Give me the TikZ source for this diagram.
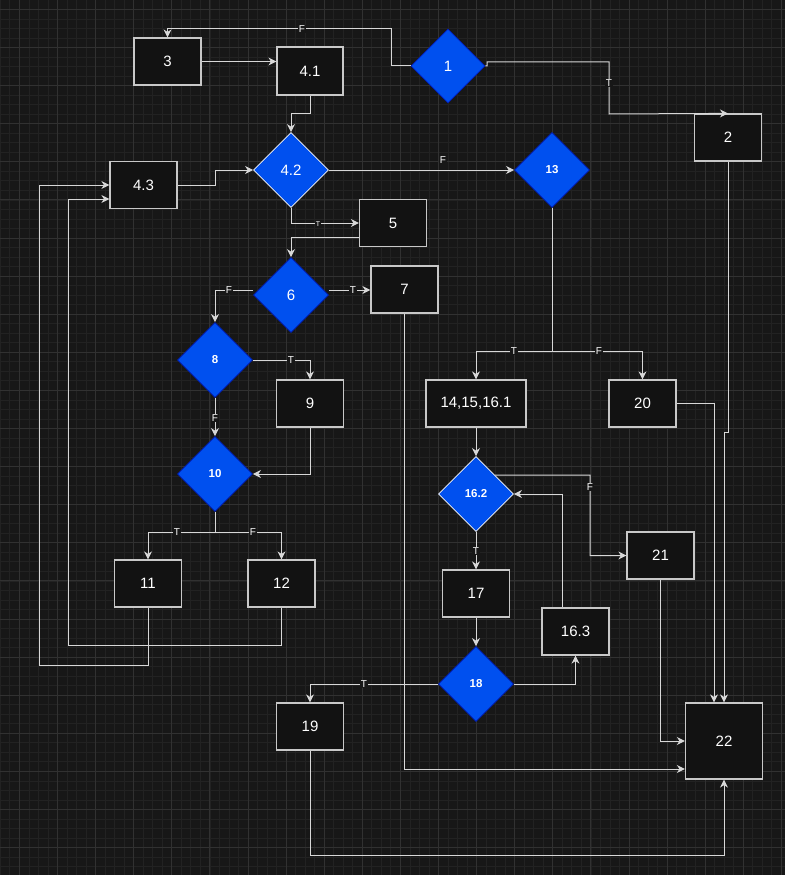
\documentclass[tikz,border=0pt]{standalone}
\usepackage{fontspec}
\setmainfont{Liberation Sans}
\usetikzlibrary{shapes.geometric,arrows.meta,calc}
\definecolor{bg}{HTML}{171717}
\definecolor{gridminor}{HTML}{222222}
\definecolor{gridmajor}{HTML}{313131}
\definecolor{boxfill}{HTML}{121212}
\definecolor{boxline}{HTML}{C8C8C8}
\definecolor{edgecol}{HTML}{D8D8D8}
\definecolor{dblue}{HTML}{0050EF}
\definecolor{dblueline}{HTML}{001DBC}
\begin{document}
\begin{tikzpicture}[x=1pt,y=-1pt,
  box/.style={rectangle, draw=boxline, fill=boxfill, line width=1.2pt, minimum width=67pt, minimum height=47pt, text=white, font=\fontsize{15}{17}\selectfont, inner sep=0pt},
  dia/.style={diamond, shape aspect=1, fill=dblue, draw=dblueline, line width=0.8pt, minimum width=75pt, minimum height=75pt, inner sep=0pt, text=white, font=\fontsize{11.5}{13}\selectfont\bfseries},
  diab/.style={dia, font=\fontsize{15}{17}\selectfont},
  diaw/.style={draw=white},
  edge/.style={draw=edgecol, line width=1pt, -{Stealth[length=8pt,width=8pt,inset=2.5pt]}},
  lbl/.style={fill=bg, text=white, inner sep=1pt, font=\fontsize{10}{12}\selectfont},
]
\useasboundingbox (0,0) rectangle (785,875);
\fill[bg] (0,0) rectangle (785,875);
\foreach \i in {0,...,82} {\draw[gridminor, line width=0.6pt] ({0.25+9.525*\i},0) -- ({0.25+9.525*\i},875);}
\foreach \i in {1,...,92} {\draw[gridminor, line width=0.6pt] (0,{-0.225+9.525*\i}) -- (785,{-0.225+9.525*\i});}
\foreach \i in {0,...,20} {\draw[gridmajor, line width=0.8pt] ({19.3+38.1*\i},0) -- ({19.3+38.1*\i},875);}
\foreach \i in {0,...,22} {\draw[gridmajor, line width=0.8pt] (0,{9.3+38.1*\i}) -- (785,{9.3+38.1*\i});}

% boxes
\node[box] (n3) at (167.5,61.5) {3};
\node[box, minimum width=66pt, minimum height=48pt] (n41) at (310,71) {4.1};
\node[box] (n2) at (728,137.5) {2};
\node[box] (n43) at (143.5,185) {4.3};
\node[box] (n5) at (393,223) {5};
\node[box] (n7) at (404.5,289.5) {7};
\node[box] (n9) at (310,403.5) {9};
\node[box, minimum width=100pt] (n14) at (476,403.5) {14,15,16.1};
\node[box] (n20) at (642.5,403.5) {20};
\node[box] (n21) at (660.5,555.5) {21};
\node[box] (n17) at (476,593.5) {17};
\node[box] (n163) at (575.5,631.5) {16.3};
\node[box] (n11) at (148,583.5) {11};
\node[box] (n12) at (281.5,583.5) {12};
\node[box] (n19) at (310,726.5) {19};
\node[box, minimum width=77pt, minimum height=76pt] (n22) at (724,741) {22};

% diamonds
\node[diab, minimum width=74pt, minimum height=74pt] (d1) at (448,66) {1};
\node[diab, diaw] (d42) at (291,170) {4.2};
\node[dia] (d13) at (552,170) {13};
\node[diab] (d6) at (291,295) {6};
\node[dia] (d8) at (215,360) {8};
\node[dia] (d10) at (215,474) {10};
\node[dia, diaw] (d162) at (476,494) {16.2};
\node[dia] (d18) at (476,684) {18};

% connectors
\draw[edge] (d1.west) -- (391,66) -- (391,29) -| (n3.north);
\draw[edge] (n3.east) -- (n41.west |- n3.east);
\draw[edge] (d1.east) -- (487,66) -- (487,62) -- (609,62) -- (609,114) -- (n2.north);
\draw[edge] (n41.south) -- (310,113) -| (d42.north);
\draw[edge] (n43.east) -- (215,185) |- (d42.west);
\draw[edge] (d42.east) -- (d13.west);
\draw[edge] (d42.south) |- (n5.west);
\draw[edge] ([yshift=-14pt]n5.west) -| (d6.north);
\draw[edge] ([yshift=5pt]d6.east) -- ([yshift=5pt]d6.east -| n7.west);
\draw[edge] ([yshift=5pt]d6.west) -| (d8.north);
\draw[edge] (d8.east) -| (n9.north);
\draw[edge] (d8.south) -- (d10.north);
\draw[edge] (n9.south) |- (d10.east);
\draw[edge] (d10.south) -- (215,532) -| (n11.north);
\draw[edge] (d10.south) -- (215,532) -| (n12.north);
\draw[edge] (n11.south) |- (39,665) |- (n43.west);
\draw[edge] (n12.south) |- (68,645) |- ([yshift=-14pt]n43.west);
\draw[edge] (d13.south) -- (552,351) -| (n14.north);
\draw[edge] (d13.south) -- (552,351) -| (n20.north);
\draw[edge] (n14.south) -- (d162.north);
\draw[edge] (d162.north east) -- (590,475) |- (n21.west);
\draw[edge] (d162.south) -- (n17.north);
\draw[edge] (n17.south) -- (d18.north);
\draw[edge] (d18.east) -| (n163.south);
\draw[edge] ([xshift=-13.5pt]n163.north) |- (d162.east);
\draw[edge] (d18.west) -| (n19.north);
\draw[edge] (n7.south) |- ([yshift=-28pt]n22.west);
\draw[edge] (n19.south) -- (310,855) -| (n22.south);
\draw[edge] (n2.south) -- (728,432) -- (724,432) -- (n22.north);
\draw[edge] (n20.east) -| ([xshift=-10pt]n22.north);
\draw[edge] (n21.south) |- (n22.west);

% labels
\node[lbl] (l1) at (302,29) {F};
\node[lbl] (l2) at (609,83) {T};
\node[lbl] (l3) at (443,160) {F};
\node[lbl, font=\fontsize{7}{8}\selectfont] (l4) at (318,224) {T};
\node[lbl] (l5) at (353,290) {T};
\node[lbl] (l6) at (229,290) {F};
\node[lbl] (l7) at (291,360) {T};
\node[lbl] (l8) at (215,418) {F};
\node[lbl] (l9) at (177,532) {T};
\node[lbl] (l10) at (253,532) {F};
\node[lbl] (l11) at (514,351) {T};
\node[lbl] (l12) at (599,351) {F};
\node[lbl] (l13) at (590,487) {F};
\node[lbl] (l14) at (476,551) {T};
\node[lbl] (l15) at (364,684) {T};
\end{tikzpicture}
\end{document}
